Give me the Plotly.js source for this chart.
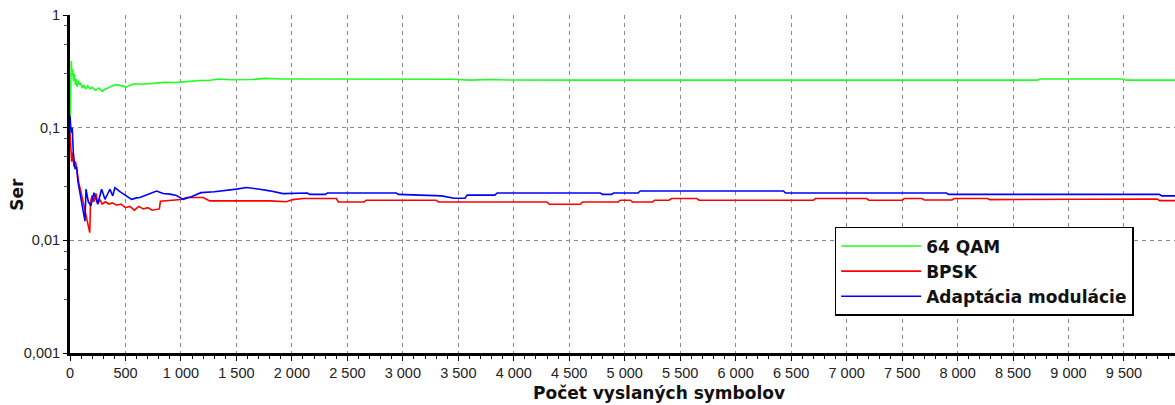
<!DOCTYPE html>
<html>
<head>
<meta charset="utf-8">
<script src="https://cdn.plot.ly/plotly-3.0.1.min.js"></script>
<style>html,body{margin:0;padding:0;background:#fff;}#chart{width:1175px;height:405px;}</style>
</head>
<body>
<div id="chart"></div>
<script>
// ---- data ----
const seriesNames = ["64 QAM", "BPSK", "Adaptácia modulácie"];

const qamX = [0,12,18,25,32,40,48,56,65,75, 85,95,110,125,140,160,180,200,230,260, 290,310,340,380,410,460,505,540,585,650, 720,800,855,950,1050,1170,1250,1335,1450,1577, 1650,1757,1900,2100,2500,3000,3450,3600,3800,3950, 4150,4600,5000,6000,7000,8000,8720,8740,9480,9520, 9960];
const qamY = [0.11,0.39,0.29,0.33,0.26,0.3,0.24,0.27,0.23,0.26, 0.24,0.25,0.225,0.24,0.22,0.235,0.222,0.228,0.215,0.225, 0.21,0.218,0.225,0.235,0.241,0.236,0.229,0.238,0.245,0.243, 0.248,0.25,0.253,0.252,0.256,0.262,0.262,0.27,0.266,0.265, 0.268,0.274,0.27,0.27,0.269,0.269,0.269,0.264,0.268,0.265, 0.264,0.264,0.264,0.264,0.264,0.264,0.264,0.27,0.27,0.264, 0.264];

const bpskX = [0,5,15,25,35,50,65,80,95,110, 125,140,155,170,178,185,200,215,235,250, 270,290,320,350,380,420,460,500,540,580, 620,660,700,740,780,805,815,900,1000,1050, 1200,1260,1400,1600,1800,1950,2010,2100,2300,2400, 2420,2650,2670,3300,3320,4300,4320,4600,4620,4940, 4960,5050,5070,5250,5270,5400,5420,5650,5670,6700, 6720,7180,7200,7500,7520,7680,7700,7950,7970,8270, 8290,8400,8420,9800,9820,9960];
const bpskY = [0.09,0.07,0.05,0.06,0.045,0.05,0.038,0.032,0.028,0.024, 0.02,0.017,0.0145,0.0125,0.0117,0.022,0.025,0.022,0.026,0.021, 0.023,0.021,0.022,0.021,0.0215,0.0205,0.021,0.0195,0.02,0.0185, 0.02,0.019,0.0195,0.0185,0.0189,0.019,0.0222,0.0225,0.023,0.024, 0.024,0.0224,0.0224,0.0222,0.0224,0.022,0.023,0.0235,0.0235,0.0235, 0.0219,0.0219,0.0227,0.0227,0.0219,0.0219,0.0209,0.0209,0.0219,0.0219, 0.0227,0.0227,0.0219,0.0219,0.0227,0.0227,0.0235,0.0235,0.0227,0.0227, 0.0235,0.0235,0.0227,0.0227,0.0235,0.0235,0.0228,0.0228,0.0235,0.0235, 0.023,0.023,0.0233,0.0233,0.0225,0.0225];

const adaptX = [0,10,20,30,45,60,72,85,100,115, 135,144,165,188,216,250,285,315,340,360, 385,405,450,510,555,600,630,700,780,840, 900,960,1020,1100,1180,1300,1410,1500,1590,1650, 1710,1800,1920,2140,2160,2300,2320,2940,2960,3350, 3460,3560,3580,3830,3850,4780,4800,4880,4900,5120, 5140,6430,6450,7900,7920,9820,9840,9960];
const adaptY = [0.128,0.09,0.1,0.06,0.043,0.045,0.033,0.028,0.022,0.018, 0.0148,0.0284,0.022,0.0202,0.0265,0.021,0.0284,0.0231,0.026,0.0284, 0.0248,0.0294,0.027,0.0248,0.0231,0.0238,0.024,0.0255,0.0274,0.026, 0.0257,0.025,0.0231,0.0245,0.0265,0.027,0.0277,0.0285,0.0294,0.029, 0.0284,0.0275,0.026,0.0263,0.0256,0.0256,0.0263,0.0263,0.0256,0.0248, 0.0236,0.0236,0.0252,0.0252,0.0263,0.0263,0.0256,0.0256,0.0263,0.0263, 0.0274,0.0274,0.0263,0.0263,0.0256,0.0256,0.0248,0.0248];

const yTickVals = [0.001, 0.01, 0.1, 1];
const yTickText = ["0,001", "0,01", "0,1", "1"];
const yMinorVals = [0.008, 0.0055, 0.003, 0.08, 0.055, 0.03, 0.8, 0.55, 0.3];
const xTitle = "Počet vyslaných symbolov";
const yTitle = "Ser";

// ---- chart ----
const tickFont = {family: "Liberation Sans, Arial, sans-serif", size: 14.5, color: "#222"};
const boldFont = {family: "DejaVu Sans, sans-serif", size: 17, color: "#111", weight: "bold"};

const traces = [
  {x: qamX, y: qamY, name: seriesNames[0], mode: "lines", line: {color: "#22ff22", width: 1.6}},
  {x: bpskX, y: bpskY, name: seriesNames[1], mode: "lines", line: {color: "#ff0000", width: 1.6}},
  {x: adaptX, y: adaptY, name: seriesNames[2], mode: "lines", line: {color: "#0000ff", width: 1.6}}
];

const layout = {
  width: 1175, height: 405,
  margin: {l: 70, r: 0, t: 15, b: 52, pad: 0},
  paper_bgcolor: "#ffffff", plot_bgcolor: "#ffffff",
  separators: ", ",
  showlegend: true,
  legend: {
    x: 0.692, y: 0.373, xanchor: "left", yanchor: "top",
    bgcolor: "#ffffff", bordercolor: "#000", borderwidth: 1.5,
    font: boldFont, itemwidth: 80, tracegroupgap: 0
  },
  xaxis: {
    range: [0, 9960], tick0: 0, dtick: 500, separatethousands: true,
    tickformat: ",d", exponentformat: "none",
    showline: true, linecolor: "#000", linewidth: 3,
    ticks: "outside", ticklen: 5, tickcolor: "#000", tickwidth: 1,
    tickfont: tickFont,
    showgrid: true, gridcolor: "#8a8a8a", gridwidth: 1, griddash: "4px,4px",
    zeroline: false,
    minor: {dtick: 100, ticks: "outside", ticklen: 3, tickcolor: "#000", showgrid: false}
  },
  yaxis: {
    type: "log", range: [-3, 0],
    tickvals: yTickVals, ticktext: yTickText,
    showline: true, linecolor: "#000", linewidth: 3,
    ticks: "outside", ticklen: 4, tickcolor: "#000",
    tickfont: tickFont,
    showgrid: true, gridcolor: "#8a8a8a", gridwidth: 1, griddash: "4px,4px",
    zeroline: false,
    minor: {tickvals: yMinorVals, ticks: "outside", ticklen: 3, tickcolor: "#555", showgrid: false}
  },
  annotations: [
    {text: xTitle, xref: "paper", yref: "paper", x: 0.533, y: -0.118, xanchor: "center", yanchor: "middle", showarrow: false, font: boldFont},
    {text: yTitle, xref: "paper", yref: "paper", x: -0.0475, y: 0.47, xanchor: "center", yanchor: "middle", textangle: -90, showarrow: false, font: boldFont}
  ]
};

Plotly.newPlot("chart", traces, layout, {displayModeBar: false, staticPlot: true});
</script>
</body>
</html>
